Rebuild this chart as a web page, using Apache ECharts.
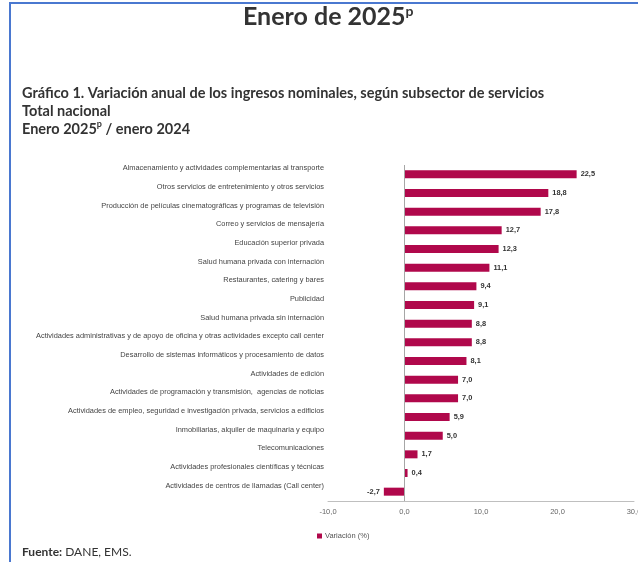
<!DOCTYPE html>
<html>
<head>
<meta charset="utf-8">
<script src="https://cdn.jsdelivr.net/npm/echarts@6/dist/echarts.min.js"></script>
<style>
html,body{margin:0;padding:0;background:#fff;}
#chart{width:638px;height:562px;}
</style>
</head>
<body>
<div id="chart"></div>
<script>
const categories = [
  "Almacenamiento y actividades complementarias al transporte",
  "Otros servicios de entretenimiento y otros servicios",
  "Producción de películas cinematográficas y programas de televisión",
  "Correo y servicios de mensajería",
  "Educación superior privada",
  "Salud humana privada con internación",
  "Restaurantes, catering y bares",
  "Publicidad",
  "Salud humana privada sin internación",
  "Actividades administrativas y de apoyo de oficina y otras actividades excepto call center",
  "Desarrollo de sistemas informáticos y procesamiento de datos",
  "Actividades de edición",
  "Actividades de programación y transmisión,  agencias de noticias",
  "Actividades de empleo, seguridad e investigación privada, servicios a edificios",
  "Inmobiliarias, alquiler de maquinaria y equipo",
  "Telecomunicaciones",
  "Actividades profesionales científicas y técnicas",
  "Actividades de centros de llamadas (Call center)"
];
const variacion = [22.5, 18.8, 17.8, 12.7, 12.3, 11.1, 9.4, 9.1, 8.8, 8.8, 8.1, 7.0, 7.0, 5.9, 5.0, 1.7, 0.4, -2.7];
const xTicks = [-10, 0, 10, 20, 30];
const seriesName = "Variación (%)";

const fmt = v => v.toFixed(1).replace('.', ',');
const barColor = '#b0084b';

const chart = echarts.init(document.getElementById('chart'), null, {renderer: 'canvas'});
chart.setOption({
  backgroundColor: '#fff',
  animation: false,
  title: [
    {
      text: '{m|Enero de 2025}{s|p}',
      left: 243,
      top: 4,
      padding: 0,
      textStyle: {
        rich: {
          m: {fontFamily: 'Lato', fontWeight: 'bold', fontSize: 25, color: '#333'},
          s: {fontFamily: 'Lato', fontWeight: 'bold', fontSize: 14, color: '#333', verticalAlign: 'top', padding: [0, 0, 10, 0]}
        }
      }
    },
    {
      text: '{b|Gráfico 1. Variación anual de los ingresos nominales, según subsector de servicios}\n{b|Total nacional}\n{b|Enero 2025}{sp|p}{b| / enero 2024}',
      left: 22,
      top: 84,
      padding: 0,
      textStyle: {
        rich: {
          b: {fontFamily: 'Lato', fontWeight: 'bold', fontSize: 14.5, color: '#333', lineHeight: 18},
          sp: {fontFamily: 'Lato', fontWeight: 'bold', fontSize: 9, color: '#333', lineHeight: 18, verticalAlign: 'top', padding: [0, 0, 4, 0]}
        }
      }
    },
    {
      text: '{b|Fuente:}{n| DANE, EMS.}',
      left: 22,
      top: 546,
      padding: 0,
      textStyle: {
        fontWeight: 'normal',
        rich: {
          b: {fontFamily: 'Lato', fontWeight: 'bold', fontSize: 12, color: '#333'},
          n: {fontFamily: 'Lato', fontWeight: 'normal', fontSize: 12, color: '#333'}
        }
      }
    }
  ],
  legend: {
    data: [seriesName],
    left: 317,
    top: 532,
    padding: 0,
    itemWidth: 5,
    itemHeight: 5,
    itemGap: 4,
    icon: 'rect',
    textStyle: {fontFamily: 'Liberation Sans', fontSize: 7.5, color: '#555', padding: [0, 0, 0, -2]}
  },
  grid: {left: 328, right: 4, top: 165, bottom: 61, containLabel: false, outerBoundsMode: 'none'},
  xAxis: {
    type: 'value',
    min: xTicks[0],
    max: xTicks[xTicks.length - 1],
    interval: 10,
    axisLine: {show: true, onZero: false, lineStyle: {color: '#bfbfbf', width: 1}},
    axisTick: {show: false},
    splitLine: {show: false},
    axisLabel: {
      formatter: v => fmt(v),
      fontFamily: 'Liberation Sans',
      fontSize: 7.5,
      color: '#666',
      margin: 7,
      hideOverlap: false
    }
  },
  yAxis: {
    type: 'category',
    data: categories,
    inverse: true,
    axisLine: {show: false, onZero: false},
    axisTick: {show: false},
    axisLabel: {
      fontFamily: 'Liberation Sans',
      fontSize: 7.4,
      color: '#444',
      margin: 4,
      verticalAlign: 'bottom',
      lineHeight: 12,
      interval: 0
    }
  },
  series: [{
    name: seriesName,
    type: 'bar',
    data: variacion.map(v => ({
      value: v,
      label: {position: v < 0 ? 'left' : 'right'}
    })),
    barWidth: 8,
    itemStyle: {color: barColor},
    label: {
      show: true,
      distance: 4,
      formatter: p => fmt(p.value),
      fontFamily: 'Liberation Sans',
      fontWeight: 'bold',
      fontSize: 7.4,
      color: '#333'
    },
    markLine: {
      silent: true,
      symbol: 'none',
      label: {show: false},
      lineStyle: {color: '#a6a6a6', type: 'solid', width: 1},
      data: [{xAxis: 0}]
    }
  }],
  graphic: [
    {type: 'line', shape: {x1: 9, y1: 3, x2: 638, y2: 3}, style: {stroke: '#4a78d0', lineWidth: 2}},
    {type: 'line', shape: {x1: 10, y1: 3, x2: 10, y2: 562}, style: {stroke: '#4a78d0', lineWidth: 2}}
  ]
});
</script>
</body>
</html>
